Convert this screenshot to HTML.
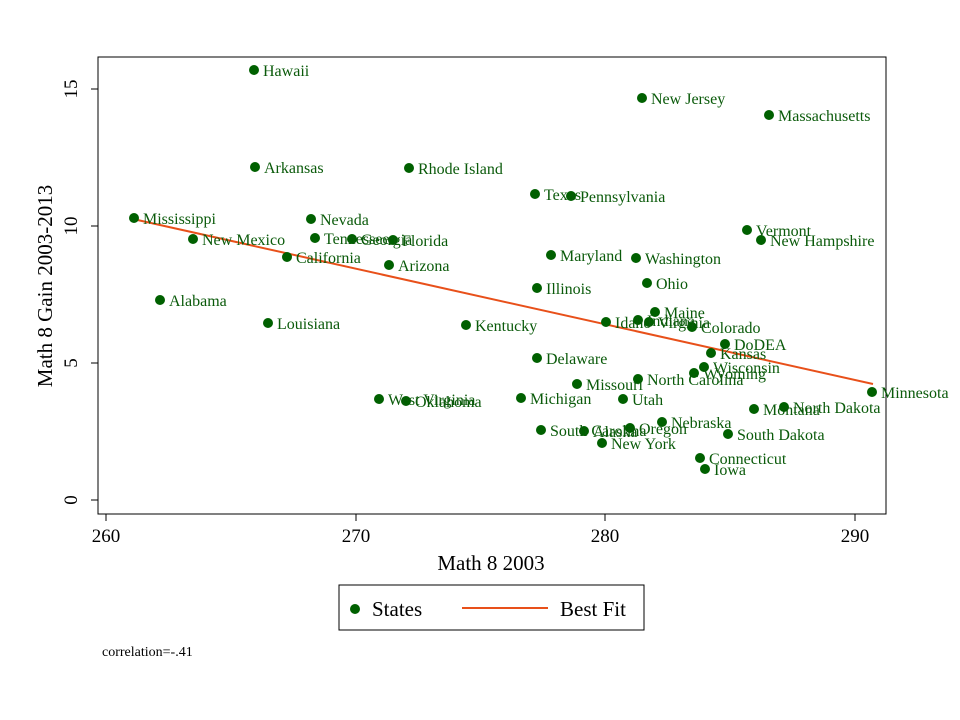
<!DOCTYPE html>
<html><head><style>body{margin:0;background:#fff}svg{display:block}text{font-family:"Liberation Serif",serif}</style></head><body>
<svg width="960" height="720" xmlns="http://www.w3.org/2000/svg">
<rect width="960" height="720" fill="#fff"/>
<rect x="98" y="57" width="788" height="457" fill="none" stroke="#000" stroke-width="1"/>
<g stroke="#000">
<line x1="106" y1="514" x2="106" y2="521"/><line x1="356" y1="514" x2="356" y2="521"/><line x1="605" y1="514" x2="605" y2="521"/><line x1="855" y1="514" x2="855" y2="521"/>
<line x1="91" y1="500" x2="98" y2="500"/><line x1="91" y1="363" x2="98" y2="363"/><line x1="91" y1="226" x2="98" y2="226"/><line x1="91" y1="89" x2="98" y2="89"/>
</g>
<g font-size="19" text-anchor="middle" fill="#000">
<text x="106" y="542">260</text><text x="356" y="542">270</text><text x="605" y="542">280</text><text x="855" y="542">290</text>
<text transform="translate(77,500) rotate(-90)">0</text>
<text transform="translate(77,363) rotate(-90)">5</text>
<text transform="translate(77,226) rotate(-90)">10</text>
<text transform="translate(77,89) rotate(-90)">15</text>
</g>
<g font-size="21" text-anchor="middle" fill="#000">
<text x="491" y="570">Math 8 2003</text>
<text transform="translate(52,286) rotate(-90)">Math 8 Gain 2003-2013</text>
</g>
<line x1="133" y1="219" x2="873" y2="384" stroke="#e8501a" stroke-width="2"/>
<g fill="#006000">
<circle cx="254" cy="70" r="5"/><circle cx="642" cy="98" r="5"/><circle cx="769" cy="115" r="5"/><circle cx="255" cy="167" r="5"/><circle cx="409" cy="168" r="5"/><circle cx="535" cy="194" r="5"/><circle cx="571" cy="196" r="5"/><circle cx="134" cy="218" r="5"/><circle cx="311" cy="219" r="5"/><circle cx="747" cy="230" r="5"/><circle cx="193" cy="239" r="5"/><circle cx="315" cy="238" r="5"/><circle cx="352" cy="239" r="5"/><circle cx="393" cy="240" r="5"/><circle cx="761" cy="240" r="5"/><circle cx="287" cy="257" r="5"/><circle cx="551" cy="255" r="5"/><circle cx="636" cy="258" r="5"/><circle cx="389" cy="265" r="5"/><circle cx="647" cy="283" r="5"/><circle cx="537" cy="288" r="5"/><circle cx="160" cy="300" r="5"/><circle cx="268" cy="323" r="5"/><circle cx="466" cy="325" r="5"/><circle cx="606" cy="322" r="5"/><circle cx="655" cy="312" r="5"/><circle cx="638" cy="320" r="5"/><circle cx="649" cy="322" r="5"/><circle cx="692" cy="327" r="5"/><circle cx="725" cy="344" r="5"/><circle cx="711" cy="353" r="5"/><circle cx="537" cy="358" r="5"/><circle cx="704" cy="367" r="5"/><circle cx="694" cy="373" r="5"/><circle cx="638" cy="379" r="5"/><circle cx="577" cy="384" r="5"/><circle cx="872" cy="392" r="5"/><circle cx="379" cy="399" r="5"/><circle cx="406" cy="401" r="5"/><circle cx="521" cy="398" r="5"/><circle cx="623" cy="399" r="5"/><circle cx="754" cy="409" r="5"/><circle cx="784" cy="407" r="5"/><circle cx="662" cy="422" r="5"/><circle cx="541" cy="430" r="5"/><circle cx="584" cy="431" r="5"/><circle cx="630" cy="428" r="5"/><circle cx="728" cy="434" r="5"/><circle cx="602" cy="443" r="5"/><circle cx="700" cy="458" r="5"/><circle cx="705" cy="469" r="5"/>
</g>
<g fill="#0a5a0a" font-size="16">
<text x="263" y="76">Hawaii</text><text x="651" y="104">New Jersey</text><text x="778" y="121">Massachusetts</text><text x="264" y="173">Arkansas</text><text x="418" y="174">Rhode Island</text><text x="544" y="200">Texas</text><text x="580" y="202">Pennsylvania</text><text x="143" y="224">Mississippi</text><text x="320" y="225">Nevada</text><text x="756" y="236">Vermont</text><text x="202" y="245">New Mexico</text><text x="324" y="244">Tennessee</text><text x="361" y="245">Georgia</text><text x="402" y="246">Florida</text><text x="770" y="246">New Hampshire</text><text x="296" y="263">California</text><text x="560" y="261">Maryland</text><text x="645" y="264">Washington</text><text x="398" y="271">Arizona</text><text x="656" y="289">Ohio</text><text x="546" y="294">Illinois</text><text x="169" y="306">Alabama</text><text x="277" y="329">Louisiana</text><text x="475" y="331">Kentucky</text><text x="615" y="328">Idaho</text><text x="664" y="318">Maine</text><text x="647" y="326">Indiana</text><text x="658" y="328">Virginia</text><text x="701" y="333">Colorado</text><text x="734" y="350">DoDEA</text><text x="720" y="359">Kansas</text><text x="546" y="364">Delaware</text><text x="713" y="373">Wisconsin</text><text x="703" y="379">Wyoming</text><text x="647" y="385">North Carolina</text><text x="586" y="390">Missouri</text><text x="881" y="398">Minnesota</text><text x="388" y="405">West Virginia</text><text x="415" y="407">Oklahoma</text><text x="530" y="404">Michigan</text><text x="632" y="405">Utah</text><text x="763" y="415">Montana</text><text x="793" y="413">North Dakota</text><text x="671" y="428">Nebraska</text><text x="550" y="436">South Carolina</text><text x="593" y="437">Alaska</text><text x="639" y="434">Oregon</text><text x="737" y="440">South Dakota</text><text x="611" y="449">New York</text><text x="709" y="464">Connecticut</text><text x="714" y="475">Iowa</text>
</g>
<rect x="339" y="585" width="305" height="45" fill="none" stroke="#000"/>
<circle cx="355" cy="609" r="5" fill="#006000"/>
<text x="372" y="616" font-size="21">States</text>
<line x1="462" y1="608" x2="548" y2="608" stroke="#e8501a" stroke-width="2"/>
<text x="560" y="616" font-size="21">Best Fit</text>
<text x="102" y="656" font-size="14">correlation=-.41</text>
</svg>
</body></html>
